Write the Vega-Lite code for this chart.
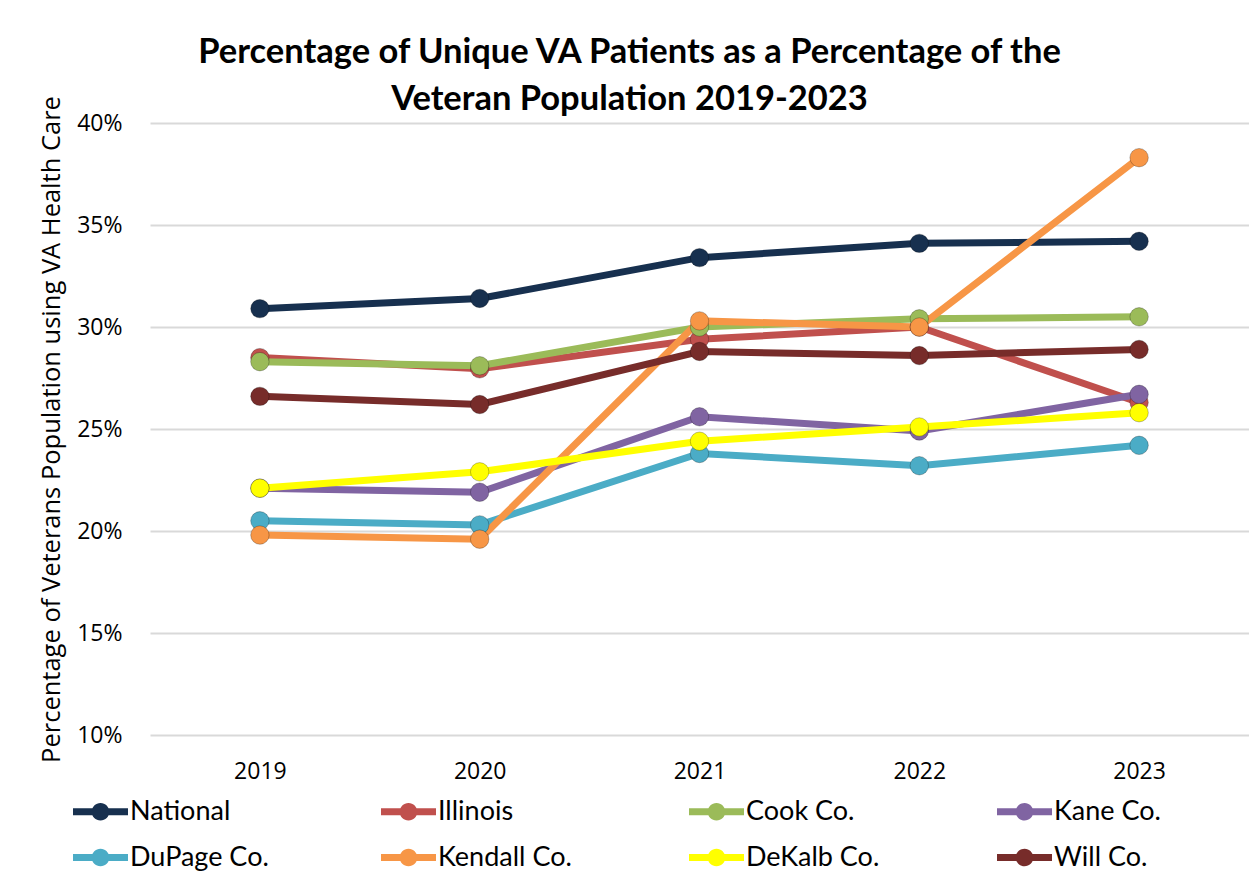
{
  "$schema": "https://vega.github.io/schema/vega-lite/v6.json",
  "autosize": {"type": "none"},
  "width": 1099,
  "height": 612,
  "padding": {"left": 150, "top": 123, "right": 0, "bottom": 148},
  "background": "white",
  "title": {
    "text": ["Percentage of Unique VA Patients as a Percentage of the", "Veteran Population 2019-2023"],
    "font": "Lato",
    "fontSize": 34.5,
    "fontWeight": "bold",
    "color": "black",
    "anchor": "middle",
    "frame": "group",
    "lineHeight": 47,
    "offset": -22,
    "dx": -70
  },
  "data": {
    "values": [
      {"series": "National", "year": "2019", "pct": 30.9},
      {"series": "National", "year": "2020", "pct": 31.4},
      {"series": "National", "year": "2021", "pct": 33.4},
      {"series": "National", "year": "2022", "pct": 34.1},
      {"series": "National", "year": "2023", "pct": 34.2},
      {"series": "Illinois", "year": "2019", "pct": 28.5},
      {"series": "Illinois", "year": "2020", "pct": 27.95},
      {"series": "Illinois", "year": "2021", "pct": 29.4},
      {"series": "Illinois", "year": "2022", "pct": 30.0},
      {"series": "Illinois", "year": "2023", "pct": 26.3},
      {"series": "Cook Co.", "year": "2019", "pct": 28.3},
      {"series": "Cook Co.", "year": "2020", "pct": 28.1},
      {"series": "Cook Co.", "year": "2021", "pct": 30.0},
      {"series": "Cook Co.", "year": "2022", "pct": 30.4},
      {"series": "Cook Co.", "year": "2023", "pct": 30.5},
      {"series": "Kane Co.", "year": "2019", "pct": 22.1},
      {"series": "Kane Co.", "year": "2020", "pct": 21.9},
      {"series": "Kane Co.", "year": "2021", "pct": 25.6},
      {"series": "Kane Co.", "year": "2022", "pct": 24.9},
      {"series": "Kane Co.", "year": "2023", "pct": 26.7},
      {"series": "DuPage Co.", "year": "2019", "pct": 20.5},
      {"series": "DuPage Co.", "year": "2020", "pct": 20.3},
      {"series": "DuPage Co.", "year": "2021", "pct": 23.8},
      {"series": "DuPage Co.", "year": "2022", "pct": 23.2},
      {"series": "DuPage Co.", "year": "2023", "pct": 24.2},
      {"series": "Kendall Co.", "year": "2019", "pct": 19.8},
      {"series": "Kendall Co.", "year": "2020", "pct": 19.6},
      {"series": "Kendall Co.", "year": "2021", "pct": 30.3},
      {"series": "Kendall Co.", "year": "2022", "pct": 30.0},
      {"series": "Kendall Co.", "year": "2023", "pct": 38.3},
      {"series": "DeKalb Co.", "year": "2019", "pct": 22.1},
      {"series": "DeKalb Co.", "year": "2020", "pct": 22.9},
      {"series": "DeKalb Co.", "year": "2021", "pct": 24.4},
      {"series": "DeKalb Co.", "year": "2022", "pct": 25.1},
      {"series": "DeKalb Co.", "year": "2023", "pct": 25.8},
      {"series": "Will Co.", "year": "2019", "pct": 26.6},
      {"series": "Will Co.", "year": "2020", "pct": 26.2},
      {"series": "Will Co.", "year": "2021", "pct": 28.8},
      {"series": "Will Co.", "year": "2022", "pct": 28.6},
      {"series": "Will Co.", "year": "2023", "pct": 28.9}
    ]
  },
  "encoding": {
    "x": {
      "field": "year",
      "type": "ordinal",
      "scale": {"type": "point", "padding": 0.5},
      "axis": {
        "title": null,
        "labelAngle": 0,
        "labelFont": "Open Sans",
        "labelFontSize": 23,
        "labelColor": "black",
        "labelPadding": 25,
        "ticks": false,
        "domain": false,
        "grid": false
      }
    },
    "y": {
      "field": "pct",
      "type": "quantitative",
      "scale": {"domain": [10, 40], "nice": false, "zero": false},
      "axis": {
        "title": "Percentage of Veterans Population using VA Health Care",
        "titleFont": "Open Sans",
        "titleFontSize": 25.5,
        "titleFontWeight": "normal",
        "titleColor": "black",
        "titlePadding": 12,
        "values": [10, 15, 20, 25, 30, 35, 40],
        "labelExpr": "datum.value + '%'",
        "labelFont": "Open Sans",
        "labelFontSize": 23,
        "labelColor": "black",
        "labelPadding": 28,
        "ticks": false,
        "domain": false,
        "gridColor": "#d9d9d9",
        "gridWidth": 2
      }
    },
    "color": {
      "field": "series",
      "type": "nominal",
      "scale": {
        "domain": ["National", "Illinois", "Cook Co.", "Kane Co.", "DuPage Co.", "Kendall Co.", "DeKalb Co.", "Will Co."],
        "range": ["#17304f", "#c0504d", "#9bbb59", "#8064a2", "#4bacc6", "#f79646", "#ffff00", "#772c2a"]
      },
      "legend": {
        "title": null,
        "orient": "none",
        "legendX": -77,
        "legendY": 661,
        "direction": "horizontal",
        "columns": 4,
        "gridAlign": "all",
        "columnPadding": 112,
        "rowPadding": 5,
        "symbolType": "M-1,-0.13H1V0.13H-1Z M0.32,0A0.32,0.32 0 1,1 -0.32,0A0.32,0.32 0 1,1 0.32,0Z",
        "symbolSize": 3025,
        "symbolStrokeWidth": 0,
        "symbolOpacity": 1,
        "labelFont": "Lato",
        "labelFontSize": 27,
        "labelColor": "black",
        "labelOffset": 2,
        "labelLimit": 300
      }
    }
  },
  "layer": [
    {"mark": {"type": "line", "strokeWidth": 7}},
    {"mark": {"type": "circle", "size": 340, "opacity": 1, "stroke": "#00000040", "strokeWidth": 1}}
  ],
  "config": {"view": {"stroke": null}}
}
